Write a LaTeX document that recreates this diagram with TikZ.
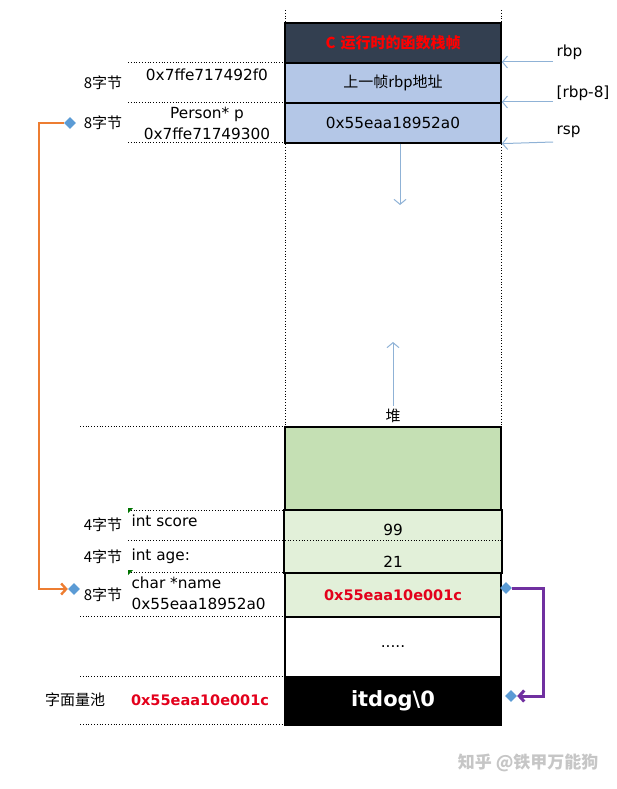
\documentclass[tikz,border=0pt]{standalone}
\usepackage{fontspec}
\setmainfont{DejaVu Sans}
\newfontfamily\cjk{Noto Sans CJK SC}
\usetikzlibrary{shapes.geometric, arrows.meta}

\definecolor{frametop}{HTML}{333F50}
\definecolor{stackblue}{HTML}{B4C7E7}
\definecolor{heapgreen}{HTML}{C5E0B4}
\definecolor{fieldgreen}{HTML}{E2F0D9}
\definecolor{linkblue}{HTML}{8FB2D6}
\definecolor{knobblue}{HTML}{5B9BD5}
\definecolor{hotred}{HTML}{E3001B}
\definecolor{ptrorange}{HTML}{ED7D31}
\definecolor{ptrpurple}{HTML}{7030A0}

\tikzset{
  cell/.style={draw, line width=1.6pt, minimum width=216pt, inner sep=0pt, anchor=north},
  guide/.style={dotted, line width=0.8pt},
  link/.style={-{Straight Barb[length=5pt, width=12pt]}, linkblue, line width=1pt},
  ptr/.style={-{Straight Barb[length=5pt, width=11pt]}, line width=2.2pt},
  knob/.style={diamond, fill=knobblue, minimum size=12pt, inner sep=0pt},
  zh/.style={font=\cjk\fontsize{15}{17}\selectfont},
}

\begin{document}
\begin{tikzpicture}[x=1pt, y=-1pt, every node/.style={font=\fontsize{15.3}{17}\selectfont}]
        \useasboundingbox (0,0) rectangle (616,789);
        % column guides
        \draw[guide] (285,10) -- (285,426);
        \draw[guide] (501,10) -- (501,426);
        \draw[guide] (128,62) -- (285,62);
        \draw[guide] (128,102) -- (285,102);
        \draw[guide] (128,142) -- (285,142);
        \draw[guide] (80,426) -- (285,426);
        \draw[guide] (128,510) -- (285,510);
        \draw[guide] (128,572) -- (285,572);
        \draw[guide] (80,616) -- (285,616);
        \draw[guide] (80,676) -- (285,676);
        \draw[guide] (80,724) -- (285,724);

        % stack frame
        \node[cell, fill=frametop, minimum height=40pt, text=red, font=\cjk\bfseries\fontsize{15}{17}\selectfont] (frame) at (393,22) {C\hspace{5pt}运行时的函数栈帧};
        \node[cell, fill=stackblue, minimum height=40pt, zh] (prev) at (393,62) {上一帧rbp地址};
        \node[cell, fill=stackblue, minimum height=40pt] (pvar) at (393,102) {0x55eaa18952a0};

        % heap
        \node[cell, fill=heapgreen, minimum height=84pt] (heap) at (393,426) {};
        \node[cell, draw=none, fill=fieldgreen, minimum height=30pt] (score) at (393,510) {};
        \node[cell, draw=none, fill=fieldgreen, minimum height=32pt] (age) at (393,540) {};
        \draw[line width=1.6pt] (score.north west) rectangle (age.south east);
        \draw[guide] (128,540) -- (age.north east);
        \node (v99) at (393,530) {99};
        \node (v21) at (393,562) {21};
        \node[cell, fill=fieldgreen, minimum height=44pt, text=hotred, font=\bfseries\fontsize{14.5}{17}\selectfont] (name) at (393,572) {0x55eaa10e001c};
        \node[cell, minimum height=60pt] (rest) at (393,616) {.....};
        \node[cell, fill=black, minimum height=48pt, text=white, font=\bfseries\fontsize{21}{25}\selectfont] (lit) at (393,676) {itdog\textbackslash0};

        % left labels
        \node[zh] (sz1) at (103,83) {8字节};
        \node (addr1) at (207,75) {0x7ffe717492f0};
        \node[zh] (sz2) at (103,123) {8字节};
        \node (pname) at (207,114) {Person* p};
        \node (addr2) at (207,134) {0x7ffe71749300};
        \node[zh] (sz3) at (103,525) {4字节};
        \node[anchor=west] (fscore) at (128,521) {int score};
        \node[zh] (sz4) at (103,557) {4字节};
        \node[anchor=west] (fage) at (128,556) {int age:};
        \node[zh] (sz5) at (103,595) {8字节};
        \node[anchor=west] (fname) at (128,583) {char *name};
        \node[anchor=west] (addr3) at (128,604) {0x55eaa18952a0};
        \node[zh] (pool) at (75,700) {字面量池};
        \node[text=hotred, font=\bfseries\fontsize{14.5}{17}\selectfont] (pooladdr) at (200,700) {0x55eaa10e001c};
        \fill[green!45!black] (128,508) -- (133,508) -- (128,513) -- cycle;
        \fill[green!45!black] (128,570) -- (133,570) -- (128,575) -- cycle;

        % registers
        \node[anchor=west] (rbp) at (553,52) {rbp};
        \node[anchor=west] (rbp8) at (553,93) {[rbp-8]};
        \node[anchor=west] (rsp) at (553,132) {rsp};
        \coordinate (rbpfrom) at (553,62);
        \coordinate (rbp8from) at (553,102);
        \coordinate (rspfrom) at (553,142);
        \draw[link] (rbpfrom) -- (prev.north east);
        \draw[link] (rbp8from) -- (pvar.north east);
        \draw[link] (rspfrom) -- (pvar.south east);

        % growth directions
        \coordinate (grow) at (400,205);
        \draw[link] (pvar.south -| grow) -- (grow);
        \node[zh] (heaplbl) at (393,416) {堆};
        \coordinate (hgrow) at (393,342);
        \draw[link] (heaplbl.north) -- (hgrow);

        % pointers
        \node[knob] (k1) at (70,123) {};
        \node[knob] (k2) at (74,589) {};
        \node[knob] (k3) at (506,588) {};
        \node[knob] (k4) at (511,696) {};
        \coordinate (lbend) at (39,350);
        \coordinate (rbend) at (543,640);
        \draw[ptr, ptrorange, line width=2.4pt] (k1.west) -| (lbend) |- (k2.west);
        \draw[ptr, ptrpurple, line width=3pt] (k3.east) -| (rbend) |- (k4.east);

        \node[anchor=east, text=gray!45, font=\cjk\bfseries\fontsize{17}{20}\selectfont] (wmark) at (602,763) {知乎 @铁甲万能狗};
      \end{tikzpicture}
\end{document}
